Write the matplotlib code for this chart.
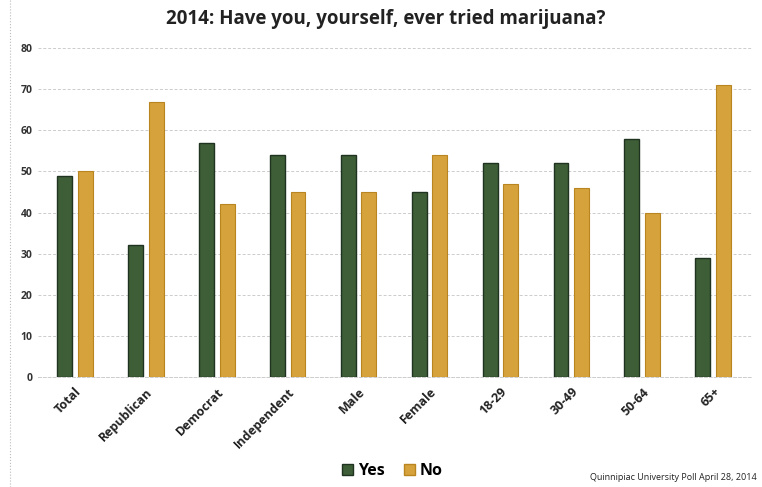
import numpy as np
import matplotlib
matplotlib.use('Agg')
import matplotlib.pyplot as plt
from matplotlib.patches import Patch

# Survey data (percent)
categories = ['Total', 'Republican', 'Democrat', 'Independent', 'Male',
              'Female', '18-29', '30-49', '50-64', '65+']
yes_values = [49, 32, 57, 54, 54, 45, 52, 52, 58, 29]
no_values = [50, 67, 42, 45, 45, 54, 47, 46, 40, 71]
y_ticks = [0, 10, 20, 30, 40, 50, 60, 70, 80]

YES_COLOR = '#3d5e36'
YES_EDGE = '#1f3320'
NO_COLOR = '#d6a23c'
NO_EDGE = '#b88520'

plt.rcParams['font.family'] = ['Open Sans', 'DejaVu Sans']

fig = plt.figure(figsize=(7.62, 4.87), dpi=100)
ax = fig.add_axes([0.05, 0.226, 0.937, 0.675])

x = np.arange(len(categories))
width = 0.21
offset = 0.145
ax.bar(x - offset, yes_values, width, color=YES_COLOR, edgecolor=YES_EDGE, linewidth=1.0, zorder=3)
ax.bar(x + offset, no_values, width, color=NO_COLOR, edgecolor=NO_EDGE, linewidth=0.8, zorder=3)

ax.set_ylim(0, 80)
ax.set_xlim(-0.52, len(categories) - 0.45)
ax.set_yticks(y_ticks)
ax.set_yticklabels([str(v) for v in y_ticks], fontsize=7.5, fontweight='bold', color='#333333')
ax.set_xticks(x)
ax.set_xticklabels(categories, rotation=45, ha='right', rotation_mode='anchor',
                   fontsize=9, fontweight='bold', color='#222222')
ax.tick_params(axis='both', length=0, pad=4)
ax.tick_params(axis='x', pad=6)

ax.yaxis.grid(True, color='#cccccc', linestyle=(0, (3, 2)), linewidth=0.7, zorder=0)
for side in ['top', 'right', 'left']:
    ax.spines[side].set_visible(False)
ax.spines['bottom'].set_color('#cccccc')
ax.spines['bottom'].set_linestyle((0, (3, 2)))
ax.spines['bottom'].set_linewidth(0.7)

fig.text(0.506, 0.962, '2014: Have you, yourself, ever tried marijuana?',
         ha='center', va='center', fontsize=13.5, fontweight='bold', color='#222222')

handles = [Patch(facecolor=YES_COLOR, edgecolor=YES_EDGE, label='Yes'),
           Patch(facecolor=NO_COLOR, edgecolor=NO_EDGE, label='No')]
fig.legend(handles=handles, loc='center', bbox_to_anchor=(0.515, 0.033), ncol=2, frameon=False,
           prop={'size': 11.5, 'weight': 'bold'}, handlelength=0.7, handleheight=0.7,
           handletextpad=0.3, columnspacing=1.2)

fig.text(0.993, 0.02, 'Quinnipiac University Poll April 28, 2014', ha='right', va='center',
         fontsize=6.5, color='#222222')

# faint dotted frame line at left edge
fig.add_artist(plt.Line2D([0.013, 0.013], [0.0, 1.0], color='#bbbbbb', linestyle=':', linewidth=0.8))

fig.savefig('out.png', dpi=100, facecolor='white')
